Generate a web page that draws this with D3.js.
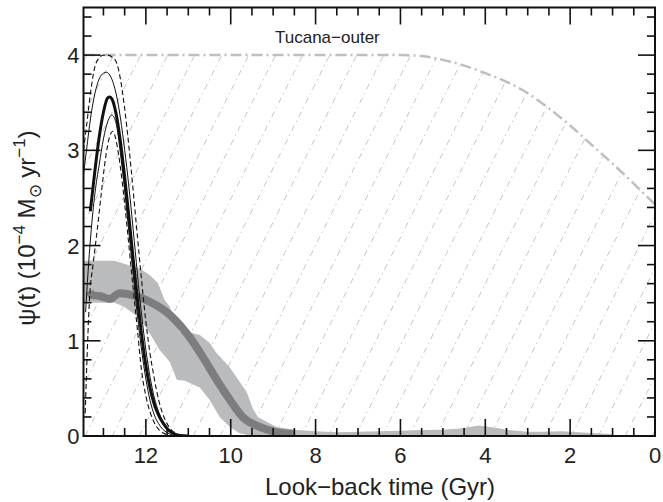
<!DOCTYPE html>
<html>
<head>
<meta charset="utf-8">
<script src="https://cdn.jsdelivr.net/npm/d3@7"></script>
<style>
  body { margin: 0; background: #fff; }
  svg { font-family: "Liberation Sans", Arial, sans-serif; }
</style>
</head>
<body>
<div id="chart"></div>
<script>
// look-back time (Gyr) and SFR (1e-4 Msun/yr)

// upper envelope of the hatched region (grey dash-dot)
var tucT = [13.47, 6.0, 5.5, 5.0, 4.5, 4.0, 3.5, 3.0, 2.5, 2.0, 1.5, 1.0, 0.5, 0.0];
var tucV = [4.0, 4.0, 3.99, 3.95, 3.89, 3.81, 3.72, 3.6, 3.44, 3.26, 3.06, 2.86, 2.65, 2.43];

// grey band (upper / lower)
var bandUpT = [13.47, 12.74, 12.15, 11.91, 11.72, 11.56, 11.44, 11.32, 11.2, 10.97, 10.73, 10.5, 10.33, 10.02, 9.79, 9.62, 9.48, 9.36, 9.15, 8.92, 8.44, 8.0, 7.5, 7.0, 6.5, 6.0, 5.5, 5.0, 4.6, 4.15, 3.8, 3.4, 3.0, 2.6, 2.2, 1.8, 1.4, 1.05, 0.9];
var bandUpV = [1.84, 1.84, 1.76, 1.69, 1.61, 1.43, 1.36, 1.22, 1.09, 1.09, 1.06, 0.98, 0.87, 0.72, 0.57, 0.46, 0.29, 0.2, 0.15, 0.095, 0.063, 0.05, 0.04, 0.045, 0.05, 0.055, 0.063, 0.066, 0.08, 0.11, 0.09, 0.06, 0.045, 0.045, 0.05, 0.04, 0.03, 0.02, 0.0];
var bandLoT = [13.47, 12.74, 12.52, 12.15, 11.91, 11.67, 11.44, 11.27, 11.08, 10.73, 10.5, 10.26, 10.02, 9.79, 9.48, 0.9];
var bandLoV = [1.40, 1.40, 1.36, 1.24, 1.08, 0.90, 0.78, 0.59, 0.58, 0.51, 0.38, 0.20, 0.095, 0.03, 0.0, 0.0];

// dark grey best fit inside the band
var midT = [13.32, 13.28, 13.09, 12.85, 12.62, 12.31, 11.91, 11.51, 11.04, 10.97, 10.66, 10.33, 10.02, 9.72, 9.32, 8.92, 8.5];
var midV = [1.52, 1.48, 1.47, 1.44, 1.50, 1.48, 1.41, 1.30, 1.08, 1.04, 0.83, 0.59, 0.38, 0.20, 0.095, 0.04, 0.02];

// black curves: best fit (thick), 1-sigma (thin), 2-sigma (dashed)
var bestT = [13.31, 13.2, 13.1, 13.0, 12.9, 12.85, 12.8, 12.7, 12.6, 12.5, 12.4, 12.3, 12.2, 12.1, 12.0, 11.9, 11.8, 11.7, 11.6, 11.5, 11.4, 11.3, 11.2, 11.0];
var bestV = [2.36, 2.79, 3.14, 3.40, 3.55, 3.56, 3.54, 3.38, 3.09, 2.72, 2.30, 1.86, 1.44, 1.06, 0.74, 0.50, 0.33, 0.22, 0.14, 0.08, 0.04, 0.018, 0.006, 0.0];

var hi1T = [13.47, 13.4, 13.3, 13.2, 13.1, 13.0, 12.93, 12.85, 12.75, 12.65, 12.55, 12.45, 12.35, 12.25, 12.15, 12.05, 11.95, 11.85, 11.75, 11.65, 11.55, 11.45, 11.35, 11.25, 11.1];
var hi1V = [2.75, 3.0, 3.35, 3.6, 3.75, 3.81, 3.82, 3.79, 3.68, 3.48, 3.18, 2.82, 2.40, 1.94, 1.48, 1.08, 0.75, 0.50, 0.32, 0.20, 0.11, 0.055, 0.025, 0.01, 0.0];

var lo1T = [13.42, 13.39, 13.3, 13.2, 13.1, 13.0, 12.9, 12.8, 12.7, 12.6, 12.5, 12.4, 12.3, 12.2, 12.1, 12.0, 11.9, 11.8, 11.7, 11.6, 11.5, 11.4, 11.3];
var lo1V = [1.3, 1.53, 2.1, 2.55, 2.85, 3.12, 3.3, 3.37, 3.28, 2.97, 2.58, 2.14, 1.70, 1.27, 0.90, 0.60, 0.37, 0.22, 0.13, 0.07, 0.035, 0.014, 0.0];

var hi2T = [13.47, 13.4, 13.3, 13.2, 13.1, 13.0, 12.9, 12.8, 12.7, 12.6, 12.5, 12.4, 12.3, 12.2, 12.1, 12.0, 11.9, 11.8, 11.7, 11.6, 11.5, 11.4, 11.3, 11.2, 11.05];
var hi2V = [3.0, 3.25, 3.62, 3.88, 3.97, 4.0, 4.0, 3.98, 3.93, 3.75, 3.44, 3.04, 2.58, 2.10, 1.63, 1.20, 0.86, 0.60, 0.38, 0.23, 0.13, 0.065, 0.03, 0.012, 0.0];

var lo2T = [13.43, 13.38, 13.32, 13.25, 13.15, 13.05, 12.95, 12.85, 12.78, 12.7, 12.6, 12.5, 12.4, 12.3, 12.2, 12.1, 12.0, 11.9, 11.8, 11.7, 11.6, 11.5, 11.4];
var lo2V = [0.24, 0.9, 1.5, 1.78, 2.15, 2.55, 2.92, 3.15, 3.2, 3.1, 2.82, 2.44, 2.0, 1.55, 1.12, 0.68, 0.42, 0.25, 0.14, 0.07, 0.035, 0.014, 0.0];

var xTicks = [12, 10, 8, 6, 4, 2, 0];
var yTicks = [0, 1, 2, 3, 4];

var svgWidth = 663, svgHeight = 502;
var margin = {top: 7.5, right: 8, bottom: 66, left: 83.5};
var width = svgWidth - margin.left - margin.right;
var height = svgHeight - margin.top - margin.bottom;

var svg = d3.select("#chart").append("svg")
  .attr("width", svgWidth)
  .attr("height", svgHeight);

var chartGroup = svg.append("g")
  .attr("transform", `translate(${margin.left}, ${margin.top})`);

var x = d3.scaleLinear().domain([13.47, 0]).range([0, width]);
var y = d3.scaleLinear().domain([0, 4.5]).range([height, 0]);

function pairs(ts, vs) {
  return ts.map((t, i) => [t, vs[i]]);
}

var line = d3.line()
  .x(d => x(d[0]))
  .y(d => y(d[1]))
  .curve(d3.curveMonotoneX);

var defs = svg.append("defs");
defs.append("clipPath").attr("id", "plotclip")
  .append("rect").attr("width", width).attr("height", height);

// region under the dash-dot envelope, used to clip the hatching
var under = d3.area()
  .x(d => x(d[0]))
  .y0(height)
  .y1(d => y(d[1]))
  .curve(d3.curveMonotoneX);
defs.append("clipPath").attr("id", "hatchclip")
  .append("path").attr("d", under(pairs(tucT, tucV)));

var plot = chartGroup.append("g").attr("clip-path", "url(#plotclip)");

// hatching
var hatch = plot.append("g").attr("clip-path", "url(#hatchclip)");
var slant = 0.5; // dx per dy
for (var hx = -height * slant; hx < width + 10; hx += 27) {
  hatch.append("line")
    .attr("x1", hx).attr("y1", height)
    .attr("x2", hx + height * slant).attr("y2", 0)
    .attr("stroke", "#c6c6c6")
    .attr("stroke-width", 1)
    .attr("stroke-dasharray", "6,4,1.5,4");
}

// grey band
var bandUp = pairs(bandUpT, bandUpV);
var bandLo = pairs(bandLoT, bandLoV).reverse();
var bandPath = d3.line().x(d => x(d[0])).y(d => y(d[1])).curve(d3.curveLinear);
plot.append("path")
  .attr("d", bandPath(bandUp.concat(bandLo)) + "Z")
  .attr("fill", "#babbbd")
  .attr("stroke", "none");

plot.append("path")
  .attr("d", line(pairs(midT, midV)))
  .attr("fill", "none")
  .attr("stroke", "#7d7d7f")
  .attr("stroke-width", 8)
  .attr("stroke-linecap", "butt");

// dash-dot envelope
plot.append("path")
  .attr("d", line(pairs(tucT, tucV)))
  .attr("fill", "none")
  .attr("stroke", "#bfbfbf")
  .attr("stroke-width", 2.5)
  .attr("stroke-dasharray", "11,4,2,4");

// black curves
var curves = [
  {t: hi2T, v: hi2V, w: 1.1, dash: "5,3"},
  {t: lo2T, v: lo2V, w: 1.1, dash: "5,3"},
  {t: hi1T, v: hi1V, w: 1, dash: null},
  {t: lo1T, v: lo1V, w: 1, dash: null},
  {t: bestT, v: bestV, w: 3, dash: null}
];
curves.forEach(function(c) {
  plot.append("path")
    .attr("d", line(pairs(c.t, c.v)))
    .attr("fill", "none")
    .attr("stroke", "#111")
    .attr("stroke-width", c.w)
    .attr("stroke-dasharray", c.dash);
});

// ticks (inside, all four sides)
var xMinor = d3.range(0, 13.5, 0.5);
var yMinor = d3.range(0, 4.51, 0.2);
var tickG = chartGroup.append("g").attr("stroke", "#111").attr("stroke-width", 1.6);
xMinor.forEach(function(t) {
  var major = Math.abs(t - Math.round(t)) < 1e-6 && Math.round(t) % 2 === 0;
  var len = major ? 17 : 8;
  tickG.append("line").attr("x1", x(t)).attr("x2", x(t)).attr("y1", height).attr("y2", height - len);
  tickG.append("line").attr("x1", x(t)).attr("x2", x(t)).attr("y1", 0).attr("y2", len);
});
yMinor.forEach(function(v) {
  var major = Math.abs(v - Math.round(v)) < 1e-6;
  var len = major ? 17 : 8;
  tickG.append("line").attr("y1", y(v)).attr("y2", y(v)).attr("x1", 0).attr("x2", len);
  tickG.append("line").attr("y1", y(v)).attr("y2", y(v)).attr("x1", width).attr("x2", width - len);
});

chartGroup.append("rect")
  .attr("width", width).attr("height", height)
  .attr("fill", "none")
  .attr("stroke", "#111")
  .attr("stroke-width", 2);

// tick labels
chartGroup.selectAll(".xlab").data(xTicks).enter().append("text")
  .attr("x", d => x(d))
  .attr("y", height + 27)
  .attr("text-anchor", "middle")
  .attr("font-size", 22)
  .attr("fill", "#222")
  .text(d => d);

chartGroup.selectAll(".ylab").data(yTicks).enter().append("text")
  .attr("x", -4)
  .attr("y", d => y(d) + 8)
  .attr("text-anchor", "end")
  .attr("font-size", 22)
  .attr("fill", "#222")
  .text(d => d);

// axis titles
svg.append("text")
  .attr("x", 380)
  .attr("y", 495)
  .attr("text-anchor", "middle")
  .attr("font-size", 24)
  .attr("fill", "#222")
  .text("Look\u2212back time (Gyr)");

var ylab = svg.append("text")
  .attr("transform", "translate(35, 228) rotate(-90)")
  .attr("text-anchor", "middle")
  .attr("font-size", 24)
  .attr("fill", "#222");
ylab.append("tspan").text("\u03c8(t) (10");
ylab.append("tspan").attr("dy", -10).attr("font-size", 17).text("\u22124");
ylab.append("tspan").attr("dy", 10).text(" M");
ylab.append("tspan").attr("dy", 6).attr("font-size", 17).text("\u2299");
ylab.append("tspan").attr("dy", -6).text(" yr");
ylab.append("tspan").attr("dy", -10).attr("font-size", 17).text("\u22121");
ylab.append("tspan").attr("dy", 10).text(")");

chartGroup.append("text")
  .attr("x", 275 - margin.left)
  .attr("y", 43 - margin.top)
  .attr("font-size", 17)
  .attr("fill", "#222")
  .text("Tucana\u2212outer");
</script>
</body>
</html>
